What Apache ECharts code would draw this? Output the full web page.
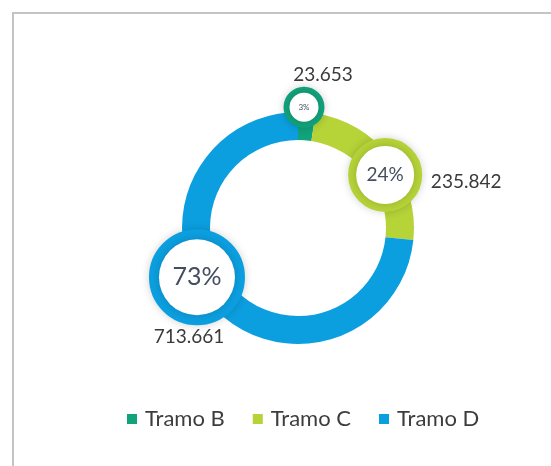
<!DOCTYPE html>
<html>
<head>
<meta charset="utf-8">
<script src="https://cdn.jsdelivr.net/npm/echarts@6/dist/echarts.min.js"></script>
<style>
    html, body { margin: 0; padding: 0; background: #fff; }
    #chart { width: 551px; height: 466px; }
</style>
</head>
<body>
<div id="chart"></div>
<script>
    // datos del grafico
    var tramos = ['Tramo B', 'Tramo C', 'Tramo D'];
    var valores = [23653, 235842, 713661];
    var porcentajes = ['3%', '24%', '73%'];

    var colores = ['#11a37b', '#b6d338', '#0c9fe0'];

    // burbujas de porcentaje: tamano, borde, letra, desplazamiento
    var burbujas = [
        { r: 14.5, borde: 6, letra: 8, offset: [-2, -16] },
        { r: 29, borde: 8, letra: 19, offset: [4, 11] },
        { r: 38, borde: 10, letra: 25, offset: [-23, -21] }
    ];
    // desplazamiento de las etiquetas de valor
    var offsetsValor = [[17, -48], [85, 18], [-31, 39]];

    function miles(v) {
        return String(v).replace(/\B(?=(\d{3})+(?!\d))/g, '.');
    }

    var datosAnillo = tramos.map(function (t, i) {
        var b = burbujas[i];
        return {
            name: t,
            value: valores[i],
            itemStyle: { color: colores[i] },
            label: {
                formatter: porcentajes[i],
                fontSize: b.letra,
                width: b.r * 2,
                height: b.r * 2,
                lineHeight: b.r * 2,
                borderRadius: b.r + b.borde,
                borderWidth: b.borde,
                borderColor: colores[i],
                offset: b.offset
            }
        };
    });

    // mismo anillo, invisible, solo para las etiquetas de valor
    var datosValor = tramos.map(function (t, i) {
        return {
            name: t,
            value: valores[i],
            itemStyle: { color: 'rgba(0,0,0,0)' },
            label: { formatter: miles(valores[i]), offset: offsetsValor[i] }
        };
    });

    var chart = echarts.init(document.getElementById('chart'));
    chart.setOption({
        animation: false,
        textStyle: { fontFamily: 'Lato' },
        graphic: [{
            type: 'polyline',
            silent: true,
            shape: { points: [[13, 470], [13, 13], [560, 13]] },
            style: { fill: 'none', stroke: '#c4c4c4', lineWidth: 2 }
        }],
        legend: {
            data: tramos,
            left: 122,
            top: 403,
            itemWidth: 10,
            itemHeight: 10,
            itemGap: 28,
            icon: 'rect',
            selectedMode: false,
            textStyle: { fontSize: 22, color: '#3d3d3d', padding: [0, 0, 0, 3] }
        },
        series: [
            {
                name: 'anillo',
                type: 'pie',
                center: [298, 228],
                radius: [88, 116],
                startAngle: 90,
                clockwise: true,
                silent: true,
                label: {
                    show: true,
                    position: 'inside',
                    color: '#434e5e',
                    align: 'center',
                    verticalAlign: 'middle',
                    backgroundColor: '#fff',
                    shadowBlur: 8,
                    shadowColor: 'rgba(0,0,0,0.18)'
                },
                labelLine: { show: false },
                data: datosAnillo
            },
            {
                name: 'valores',
                type: 'pie',
                center: [298, 228],
                radius: [88, 116],
                startAngle: 90,
                clockwise: true,
                silent: true,
                label: {
                    show: true,
                    position: 'inside',
                    fontSize: 19,
                    color: '#3a3a3a'
                },
                labelLine: { show: false },
                data: datosValor
            }
        ]
    });
</script>
</body>
</html>
